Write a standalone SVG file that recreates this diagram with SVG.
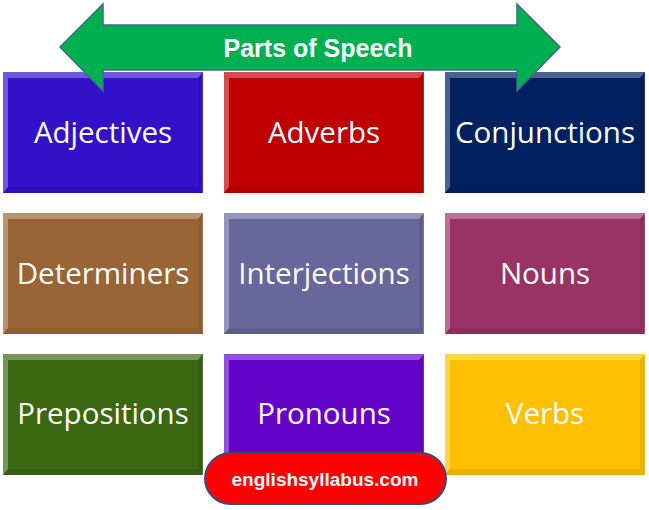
<svg xmlns="http://www.w3.org/2000/svg" width="649" height="510" viewBox="0 0 649 510">
<style>
.lbl{font-family:"Open Sans","Noto Sans","Liberation Sans",sans-serif;font-size:29.5px;fill:#fff;text-anchor:middle}
.hi{fill:#fff;opacity:.3}
.sh{fill:#000;opacity:.08}
.edge{fill:none;stroke:#fff;stroke-opacity:.6;stroke-width:1.5}
</style>
<rect width="649" height="510" fill="#fff"/>
<defs>
<g id="bevel">
<polygon class="hi" points="0,0 200,0 195,6 5,6"/>
<polygon class="hi" points="0,0 5,6 5,115 0,121" opacity=".15"/>
<polygon class="sh" points="200,0 200,121 195,115 195,6"/>
<polygon class="sh" points="0,121 200,121 195,115 5,115"/>
<line class="edge" x1="200.5" y1="1" x2="200.5" y2="121"/>
</g>
</defs>
<g id="n-adjectives"><rect x="3" y="72" width="200" height="121" fill="#3112C9"/><use href="#bevel" x="3" y="72"/><text class="lbl" x="103" y="143">Adjectives</text></g>
<g id="n-adverbs"><rect x="224" y="72" width="200" height="121" fill="#C00000"/><use href="#bevel" x="224" y="72"/><text class="lbl" x="324" y="143">Adverbs</text></g>
<g id="n-conjunctions"><rect x="445" y="72" width="200" height="121" fill="#00205F"/><use href="#bevel" x="445" y="72"/><text class="lbl" x="545" y="143">Conjunctions</text></g>
<g id="n-determiners"><rect x="3" y="213" width="200" height="121" fill="#9A6536"/><use href="#bevel" x="3" y="213"/><text class="lbl" x="103" y="284">Determiners</text></g>
<g id="n-interjections"><rect x="224" y="213" width="200" height="121" fill="#67679B"/><use href="#bevel" x="224" y="213"/><text class="lbl" x="324" y="284">Interjections</text></g>
<g id="n-nouns"><rect x="445" y="213" width="200" height="121" fill="#993366"/><use href="#bevel" x="445" y="213"/><text class="lbl" x="545" y="284">Nouns</text></g>
<g id="n-prepositions"><rect x="3" y="354" width="200" height="121" fill="#3B6711"/><use href="#bevel" x="3" y="354"/><text class="lbl" x="103" y="424">Prepositions</text></g>
<g id="n-pronouns"><rect x="224" y="354" width="200" height="121" fill="#6504C9"/><use href="#bevel" x="224" y="354"/><text class="lbl" x="324" y="424">Pronouns</text></g>
<g id="n-verbs"><rect x="445" y="354" width="200" height="121" fill="#FFC000"/><use href="#bevel" x="445" y="354"/><text class="lbl" x="545" y="424">Verbs</text></g>
<g id="connectors">
<g id="title-arrow">
<polygon points="60,47 103,4 103,25 517,25 517,4 560,47 517,91 517,70 103,70 103,91" fill="#00B050" stroke="#3F6A8A" stroke-width="1.5" stroke-linejoin="miter"/>
<text x="318" y="57" font-family="Liberation Sans,Arial,sans-serif" font-weight="bold" font-size="25" fill="#fff" text-anchor="middle">Parts of Speech</text>
</g>
</g>
<g id="badge">
<rect x="205" y="453" width="241" height="51" rx="25.5" fill="#FF0000" stroke="#3A4A7A" stroke-width="2"/>
<text x="325" y="486" font-family="Liberation Sans,Arial,sans-serif" font-weight="bold" font-size="19" fill="#fff" text-anchor="middle">englishsyllabus.com</text>
</g>
</svg>
